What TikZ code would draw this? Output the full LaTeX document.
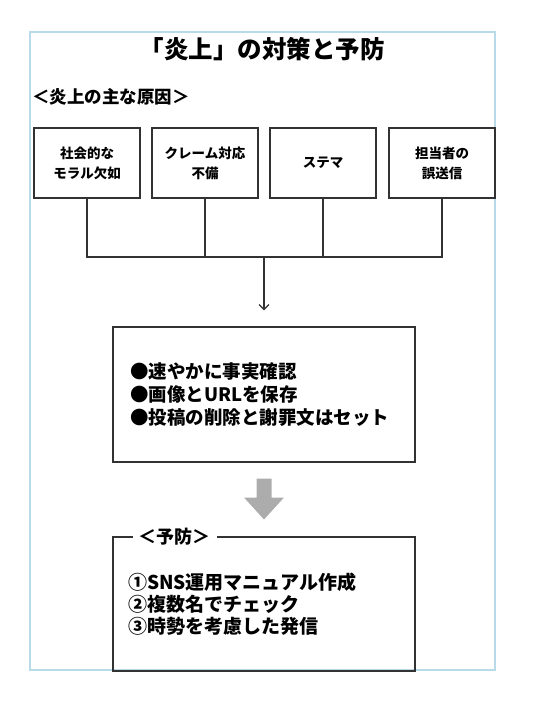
\documentclass[tikz,border=0pt]{standalone}
\usepackage{fontspec}
\setmainfont{Noto Sans CJK JP}
\usetikzlibrary{arrows.meta,positioning,calc}

\definecolor{framebl}{RGB}{185,218,232}
\definecolor{linegr}{RGB}{50,50,50}
\definecolor{arrgr}{RGB}{172,172,172}
\setlength{\lineskiplimit}{-20pt}

\begin{document}
\begin{tikzpicture}[
  x=1pt,y=-1pt,
  cause/.style={draw=linegr, line width=1.3pt, align=center, minimum width=106pt, minimum height=70pt, inner sep=2pt, font=\fontsize{13.5}{20}\selectfont\bfseries},
  panel/.style={draw=linegr, line width=1.3pt, align=left, minimum width=302pt, inner xsep=17pt, text width=268pt},
  wire/.style={draw=linegr, line width=1.3pt},
  arr/.style={-{Straight Barb[length=5pt,width=10pt]}, line width=1.2pt, draw=linegr}
]
\useasboundingbox (0,0) rectangle (540,704);
\draw[framebl, line width=1.2pt] (30,32) rectangle (495,670);

\node[font=\fontsize{24.5}{28}\selectfont\bfseries] (title) at (262,49) {「炎上」の対策と予防};
\node[anchor=west, inner sep=0pt, font=\fontsize{17.5}{20}\selectfont\bfseries] (causes) at (32,97) {＜炎上の主な原因＞};

\node[cause] (moral) at (87,163) {社会的な\\モラル欠如};
\node[cause] (claim) at (205,163) {クレーム対応\\不備};
\node[cause] (stema) at (323,163) {ステマ};
\node[cause] (miss) at (442,163) {担当者の\\誤送信};

\coordinate (bus) at (264,257);
\draw[wire] (moral.south) |- (bus) -| (miss.south);
\draw[wire] (claim.south) -- (claim.south |- bus);
\draw[wire] (stema.south) -- (stema.south |- bus);

\node[panel, minimum height=135pt, font=\fontsize{18.5}{23}\selectfont\bfseries] (act) at (264,394.5) {●速やかに事実確認\\●画像とURLを保存\\●投稿の削除と謝罪文はセット};
\draw[arr, shorten >=16pt] (bus) -- (act.north);

\node[panel, minimum height=134pt, inner xsep=15pt, text width=272pt, font=\fontsize{19}{22}\selectfont\bfseries] (prev) at (264,604) {①SNS運用マニュアル作成\\②複数名でチェック\\③時勢を考慮した発信\\[6pt]};
\node[fill=white, anchor=west, inner xsep=6pt, inner ysep=1pt, font=\fontsize{18}{20}\selectfont\bfseries] (prevlab) at ([xshift=20pt]prev.north west) {＜予防＞};

% gray block arrow between the two panels
\coordinate (turn) at ($(act.south)!0.5!(prev.north)$);
\fill[arrgr] ($(turn)+(-7.5,-21)$) -- ($(turn)+(7.5,-21)$) -- ($(turn)+(7.5,-2)$) -- ($(turn)+(20,-2)$)
  -- ($(turn)+(0,20)$) -- ($(turn)+(-20,-2)$) -- ($(turn)+(-7.5,-2)$) -- cycle;
\end{tikzpicture}
\end{document}
